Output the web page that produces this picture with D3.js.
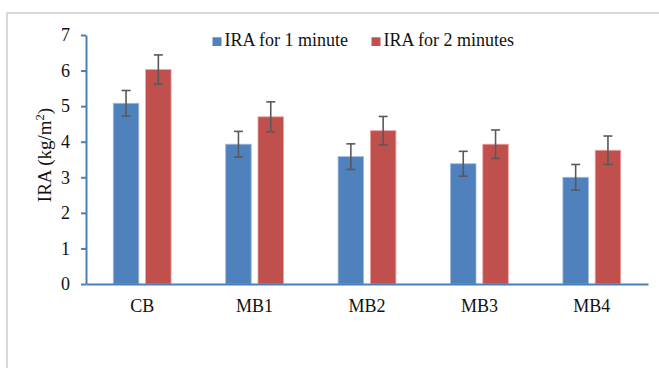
<!DOCTYPE html>
<html>
<head>
<meta charset="utf-8">
<script src="https://cdn.jsdelivr.net/npm/d3@7"></script>
<style>
  html, body { margin: 0; padding: 0; background: #fff; }
  svg { display: block; }
</style>
</head>
<body>
<svg id="chart" width="659" height="368"></svg>
<script>
// Data
const categories = ["CB", "MB1", "MB2", "MB3", "MB4"];
const seriesNames = ["IRA for 1 minute", "IRA for 2 minutes"];
const ira1min = [5.08, 3.93, 3.58, 3.38, 3.00];
const ira2min = [6.03, 4.70, 4.31, 3.93, 3.76];
const err1min = [0.36, 0.36, 0.36, 0.35, 0.36];
const err2min = [0.41, 0.42, 0.40, 0.40, 0.40];
const yTicks = [0, 1, 2, 3, 4, 5, 6, 7];

const colors = ["#4f81bd", "#c0504d"];
const strokes = ["#9cb9de", "#eba3a1"];
const FONT = "'Liberation Serif', 'Times New Roman', serif";
const TEXT = "#111";

const svg = d3.select("#chart");

// Outer frame of the chart area
svg.append("path")
  .attr("d", "M7,368 L7,13 L659,13")
  .attr("fill", "none")
  .attr("stroke", "#d9d9d9")
  .attr("stroke-width", 2);

const plot = { left: 86, right: 648, top: 35, bottom: 284 };

const x = d3.scaleBand().domain(categories).range([plot.left, plot.right]).padding(0);
const y = d3.scaleLinear().domain([0, 7]).range([plot.bottom, plot.top]);

const barW = 25.5, gap = 6.8;
const series = [
  { name: seriesNames[0], values: ira1min, errs: err1min, offset: -(gap / 2 + barW) },
  { name: seriesNames[1], values: ira2min, errs: err2min, offset: gap / 2 }
];

// Bars
series.forEach((s, si) => {
  svg.append("g").selectAll("rect")
    .data(categories)
    .join("rect")
    .attr("x", (c) => x(c) + x.bandwidth() / 2 + s.offset)
    .attr("y", (c, i) => y(s.values[i]))
    .attr("width", barW)
    .attr("height", (c, i) => y(0) - y(s.values[i]))
    .attr("fill", colors[si])
    .attr("stroke", strokes[si])
    .attr("stroke-width", 0.8);
});

// Error bars
series.forEach((s) => {
  const g = svg.append("g").attr("stroke", "#595959").attr("stroke-width", 1.6).attr("fill", "none");
  categories.forEach((c, i) => {
    const cx = x(c) + x.bandwidth() / 2 + s.offset + barW / 2;
    const hi = y(s.values[i] + s.errs[i]);
    const lo = y(s.values[i] - s.errs[i]);
    g.append("line").attr("x1", cx).attr("x2", cx).attr("y1", hi).attr("y2", lo);
    g.append("line").attr("x1", cx - 4.5).attr("x2", cx + 4.5).attr("y1", hi).attr("y2", hi);
    g.append("line").attr("x1", cx - 4.5).attr("x2", cx + 4.5).attr("y1", lo).attr("y2", lo);
  });
});

// Y axis
const yAxis = svg.append("g")
  .attr("transform", `translate(${plot.left},0)`)
  .call(d3.axisLeft(y).tickValues(yTicks).tickFormat(d3.format("d")).tickSize(5).tickSizeOuter(0).tickPadding(11));
yAxis.select(".domain").attr("stroke", "#4a7ebb").attr("stroke-width", 2);
yAxis.selectAll(".tick line").attr("stroke", "#4a7ebb").attr("stroke-width", 2);
yAxis.selectAll(".tick text").style("font-family", FONT).style("font-size", "18px").attr("fill", TEXT);

// X axis
const xAxis = svg.append("g")
  .attr("transform", `translate(0,${plot.bottom})`)
  .call(d3.axisBottom(x).tickSize(0).tickSizeOuter(0).tickPadding(15));
xAxis.select(".domain").attr("stroke", "#4a7ebb").attr("stroke-width", 2);
xAxis.selectAll(".tick text").style("font-family", FONT).style("font-size", "18px").attr("fill", TEXT);

// Y axis title
const yTitle = svg.append("text")
  .attr("transform", "translate(51,155) rotate(-90)")
  .attr("text-anchor", "middle")
  .attr("fill", TEXT)
  .style("font-family", FONT)
  .style("font-size", "19px");
yTitle.append("tspan").text("IRA (kg/m");
yTitle.append("tspan").text("2").attr("dy", -7).style("font-size", "12.5px");
yTitle.append("tspan").text(")").attr("dy", 7);

// Legend
const legendItems = [
  { name: seriesNames[0], color: colors[0], x: 212.5 },
  { name: seriesNames[1], color: colors[1], x: 371.5 }
];
const lg = svg.append("g");
legendItems.forEach((d) => {
  lg.append("rect").attr("x", d.x).attr("y", 37.3).attr("width", 9).attr("height", 8.7).attr("fill", d.color);
  lg.append("text").attr("x", d.x + 12).attr("y", 46)
    .attr("fill", TEXT)
    .style("font-family", FONT)
    .style("font-size", "18px")
    .text(d.name);
});
</script>
</body>
</html>
